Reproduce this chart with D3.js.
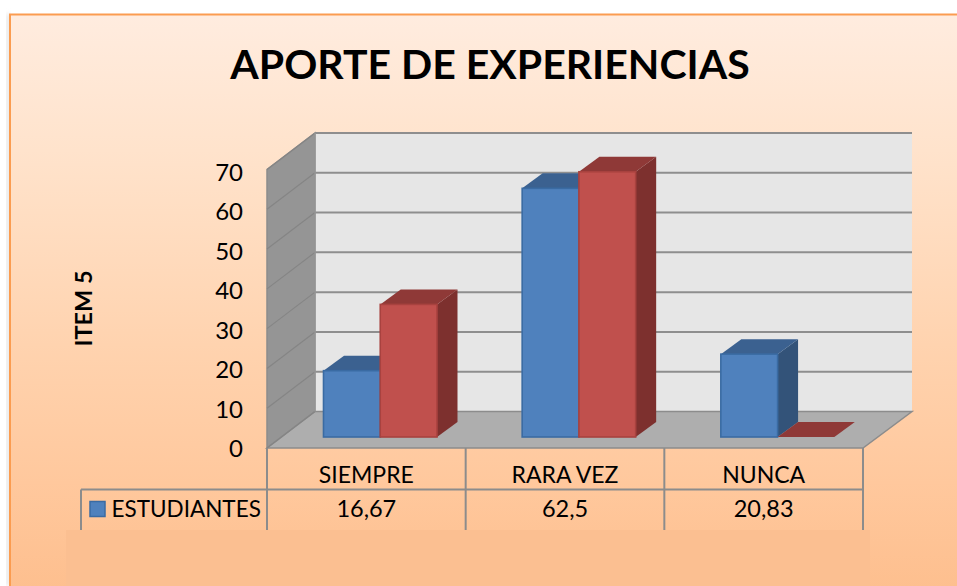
<!DOCTYPE html>
<html><head><meta charset="utf-8">
<script src="https://cdn.jsdelivr.net/npm/d3@7"></script>
<style>html,body{margin:0;padding:0;background:#fff;overflow:hidden}svg{display:block}text{font-family:Lato,"Open Sans",sans-serif;fill:#000}</style>
</head><body><svg id="c" width="957" height="586"></svg>
<script>
const categories = ["SIEMPRE", "RARA VEZ", "NUNCA"];
const estudiantes = [16.67, 62.5, 20.83];
const segundaSerie = [33.33, 66.67, 0];
const yTicks = [0, 10, 20, 30, 40, 50, 60, 70];
const titleText = "APORTE DE EXPERIENCIAS";
const axisTitle = "ITEM 5";
const legendName = "ESTUDIANTES";
const tableValues = ["16,67", "62,5", "20,83"];

const svg = d3.select("#c");
const defs = svg.append("defs");
const grad = defs.append("linearGradient").attr("id", "bg").attr("x1", 0).attr("x2", 0).attr("y1", 0).attr("y2", 1);
[[0, "#ffecdf"], [0.25, "#ffe2ca"], [0.55, "#ffd3af"], [0.78, "#ffc89d"], [1, "#fdbd8b"]]
  .forEach(([o, c]) => grad.append("stop").attr("offset", o).attr("stop-color", c));
const blur = defs.append("filter").attr("id", "soft").attr("x", "-5%").attr("y", "-5%").attr("width", "110%").attr("height", "110%");
blur.append("feGaussianBlur").attr("stdDeviation", 2.5);
const blur2 = defs.append("filter").attr("id", "soft2");
blur2.append("feGaussianBlur").attr("stdDeviation", 0.5);

// frame
svg.append("rect").attr("x", 7).attr("y", 14).attr("width", 3).attr("height", 572).attr("fill", "#d8d8d8").attr("filter", "url(#soft)");
svg.append("rect").attr("x", 10).attr("y", 14.5).attr("width", 960).attr("height", 600)
  .attr("fill", "url(#bg)").attr("stroke", "#fb9c50").attr("stroke-width", 2);

// geometry of the 3D box
const frontL = 267, frontR = 863, frontBase = 448, plotH = 278.5, depthX = 48, depthY = 36.5;
const barDx = 20.5, barDy = 15, barBase = 437;
const y = d3.scaleLinear().domain([0, 70]).range([0, plotH]);
const pts = p => p.map(d => d.join(",")).join(" ");
const grey = "#8c8c8c";

const box = svg.append("g");
// back wall
box.append("polygon").attr("points", pts([[frontL + depthX, frontBase - depthY - plotH], [frontR + depthX + 1, frontBase - depthY - plotH], [frontR + depthX + 1, frontBase - depthY], [frontL + depthX, frontBase - depthY]])).attr("fill", "#e6e6e6");
// side wall
box.append("polygon").attr("points", pts([[frontL, frontBase - plotH], [frontL + depthX, frontBase - depthY - plotH], [frontL + depthX, frontBase - depthY], [frontL, frontBase]])).attr("fill", "#959595").attr("stroke", grey).attr("stroke-width", 1.5);
// floor
box.append("polygon").attr("points", pts([[frontL, frontBase], [frontL + depthX, frontBase - depthY], [frontR + depthX + 1, frontBase - depthY], [frontR, frontBase]])).attr("fill", "#aeaeae").attr("stroke", grey).attr("stroke-width", 1.5);
// gridlines
box.selectAll("line.wall").data(yTicks).join("line").attr("class", "wall")
  .attr("x1", frontL).attr("x2", frontL + depthX)
  .attr("y1", d => frontBase - y(d)).attr("y2", d => frontBase - depthY - y(d))
  .attr("stroke", "#858585").attr("stroke-width", 1.2);
box.selectAll("line.grid").data(yTicks.slice(1)).join("line").attr("class", "grid")
  .attr("x1", frontL + depthX).attr("x2", frontR + depthX + 1)
  .attr("y1", d => frontBase - depthY - y(d)).attr("y2", d => frontBase - depthY - y(d))
  .attr("stroke", "#8e8e8e").attr("stroke-width", 2);
box.append("line").attr("x1", frontL + depthX).attr("x2", frontL + depthX).attr("y1", frontBase - depthY - plotH).attr("y2", frontBase - depthY).attr("stroke", "#9a9a9a").attr("stroke-width", 1);

// bars
const x0 = d3.scaleBand().domain(categories).range([frontL, frontR]);
const x1 = d3.scaleBand().domain([0, 1]).range([56.5, 56.5 + 113.5]);
const palette = [
  { front: "#4f81bd", top: "#3b6190", side: "#335379", line: "#3a6ba3" },
  { front: "#c0504d", top: "#8f3937", side: "#7d302e", line: "#a8423f" }
];
const rows = [];
categories.forEach((c, i) => {
  [estudiantes[i], segundaSerie[i]].forEach((v, s) => rows.push({ c, s, v }));
});
const bars = svg.append("g").selectAll("g").data(rows).join("g");
bars.each(function (d) {
  const g = d3.select(this), col = palette[d.s];
  const l = x0(d.c) + x1(d.s), r = l + x1.bandwidth(), t = barBase - y(d.v), b = barBase;
  g.append("polygon").attr("points", pts([[r, t], [r + barDx, t - barDy], [r + barDx, b - barDy], [r, b]])).attr("fill", col.side);
  g.append("polygon").attr("points", pts([[l, t], [l + barDx, t - barDy], [r + barDx, t - barDy], [r, t]])).attr("fill", col.top);
  if (d.v > 0) g.append("rect").attr("x", l).attr("y", t).attr("width", r - l).attr("height", b - t)
    .attr("fill", col.front).attr("stroke", col.line).attr("stroke-width", 1.6);
});

// y axis labels
svg.append("g").selectAll("text").data(yTicks).join("text")
  .attr("x", 243).attr("y", d => frontBase + 0.5 - y(d) * 0.993).attr("dy", "0.36em")
  .attr("text-anchor", "end").attr("font-size", 24).text(d => d);
svg.append("text").attr("transform", "translate(92,308.5) rotate(-90)").attr("text-anchor", "middle")
  .attr("font-size", 23.5).attr("font-weight", 700).text(axisTitle);

// title
svg.append("text").attr("x", 490).attr("y", 79).attr("text-anchor", "middle")
  .attr("font-size", 41).attr("font-weight", 700).text(titleText);

// data table
const table = svg.append("g").attr("stroke", grey).attr("stroke-width", 2);
const colEdges = [...categories.map(c => x0(c)), frontR];
table.selectAll("line.v").data(colEdges).join("line").attr("class", "v")
  .attr("x1", d => d).attr("x2", d => d).attr("y1", frontBase).attr("y2", 530);
table.append("line").attr("x1", 81).attr("x2", 81).attr("y1", 489.5).attr("y2", 530);
table.append("line").attr("x1", 81).attr("x2", frontR).attr("y1", 489.5).attr("y2", 489.5);

const cx = c => x0(c) + x0.bandwidth() / 2;
svg.append("g").selectAll("text").data(categories).join("text")
  .attr("x", cx).attr("y", 482.5).attr("text-anchor", "middle").attr("font-size", 23).text(d => d);
svg.append("g").selectAll("text").data(categories).join("text")
  .attr("x", cx).attr("y", 517).attr("text-anchor", "middle").attr("font-size", 23.5).text((d, i) => tableValues[i]);
svg.append("rect").attr("x", 90).attr("y", 501.5).attr("width", 15).attr("height", 15)
  .attr("fill", palette[0].front).attr("stroke", palette[0].line).attr("stroke-width", 1.5);
svg.append("text").attr("x", 111.5).attr("y", 516.5).attr("font-size", 22.5).text(legendName);

// paler strip that covers the foot of the table
svg.append("rect").attr("x", 66).attr("y", 530).attr("width", 804).attr("height", 70)
  .attr("fill", "#fbbf91").attr("filter", "url(#soft2)");
</script></body></html>
